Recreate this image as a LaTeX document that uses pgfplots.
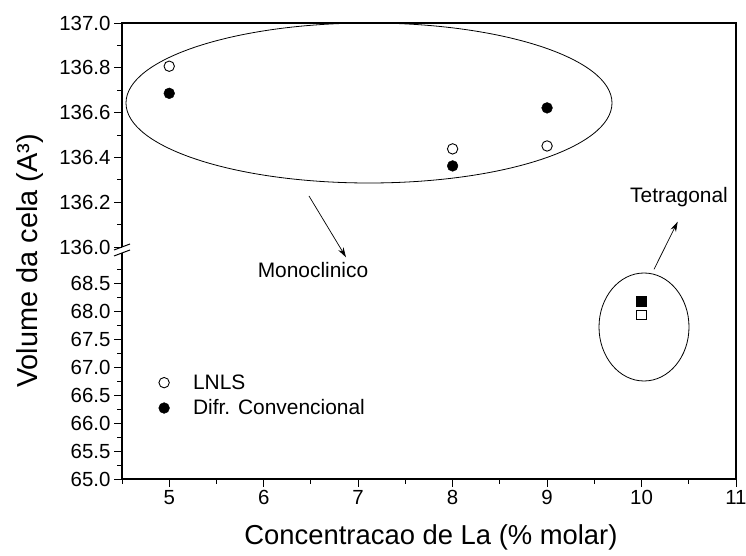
\documentclass[border=0pt]{standalone}
\usepackage{pgfplots}
\pgfplotsset{compat=1.18}
\usepackage{fontspec}
\setmainfont{Liberation Sans}
\usetikzlibrary{arrows.meta}

\newcommand{\ticksize}{\fontsize{20.5}{24}\selectfont}

\pgfplotsset{
  cellaxis/.style={
    scale only axis, width=614bp, xmin=4.5, xmax=11,
    anchor=south west,
    axis line style={draw=none},
    tick align=outside, major tick length=8bp, minor tick length=5bp,
    tick style={black, line width=0.9bp},
    ytick pos=left,
    yticklabel={\hbox{\ticksize\pgfmathprintnumber[fixed,fixed zerofill,precision=1,assume math mode=true]{\tick}}},
    xticklabel={\hbox{\ticksize\pgfmathprintnumber[assume math mode=true]{\tick}}},
    clip=false,
  },
  openmk/.style={only marks, mark=*, mark size=5.2bp,
    mark options={fill=white, draw=black, line width=0.9bp}},
  fullmk/.style={only marks, mark=*, mark size=5.4bp,
    mark options={fill=black, draw=black}},
  opensq/.style={only marks, mark=square*, mark size=4.8bp,
    mark options={fill=white, draw=black, line width=0.9bp}},
  fullsq/.style={only marks, mark=square*, mark size=5bp,
    mark options={fill=black, draw=black}},
}

\begin{document}
\begin{tikzpicture}
\useasboundingbox (0,0) rectangle (746bp,556bp);

% lower segment: tetragonal phase
\begin{axis}[cellaxis, at={(122bp,77bp)}, height=232bp,
  ymin=65, ymax=69.142857,
  ytick={65,65.5,66,66.5,67,67.5,68,68.5},
  minor ytick={65.25,65.75,66.25,66.75,67.25,67.75,68.25,68.75},
  xtick={5,6,7,8,9,10,11},
  minor xtick={4.5,5.5,6.5,7.5,8.5,9.5,10.5},
  xtick pos=bottom,
  legend image code/.code={%
    \path[draw=none, fill=none] (-7bp,-6bp) rectangle (27bp,6bp);
    \draw[#1] plot coordinates {(0bp,0bp)};},
  legend style={draw=none, fill=none, at={(0.052,0.36)}, anchor=west,
    font=\fontsize{21}{24}\selectfont, row sep=5bp},
  legend cell align=left,
]
  \addlegendimage{openmk}
  \addlegendentry{LNLS}
  \addlegendimage{fullmk}
  \addlegendentry{Difr. Convencional}
  \addplot[fullsq, forget plot] coordinates {(10,68.17)};
  \addplot[opensq, forget plot] coordinates {(10,67.93)};
\end{axis}

% upper segment: monoclinic phase
\begin{axis}[cellaxis, at={(122bp,309bp)}, height=224bp,
  ymin=136, ymax=137,
  ytick={136,136.2,136.4,136.6,136.8,137},
  minor ytick={136.1,136.3,136.5,136.7,136.9},
  xtick=\empty, minor xtick={},
]
  \addplot[openmk] coordinates {(5,136.807) (8,136.438) (9,136.451)};
  \addplot[fullmk] coordinates {(5,136.686) (8,136.362) (9,136.621)};
\end{axis}

% frame with broken left spine
\draw[line width=1.2bp] (122bp,303bp) -- (122bp,77bp) -- (736bp,77bp)
  -- (736bp,533bp) -- (122bp,533bp) -- (122bp,309bp);
\draw[line width=1bp] (114bp,306bp) -- (130bp,312bp);
\draw[line width=1bp] (114bp,300bp) -- (130bp,306bp);

% phase annotations
\draw[line width=0.8bp] (369bp,453bp) ellipse [x radius=243bp, y radius=80bp];
\draw[line width=0.8bp] (644bp,229bp) ellipse [x radius=45bp, y radius=54bp];
\draw[line width=0.7bp, -{Stealth[length=10bp,width=6bp]}] (309bp,360bp) -- (346bp,298.7bp);
\draw[line width=0.7bp, -{Stealth[length=10bp,width=6bp]}] (654bp,286.7bp) -- (677.7bp,334.3bp);
\node[font=\fontsize{21}{24}\selectfont] at (313bp,286bp) {Monoclinico};
\node[font=\fontsize{21}{24}\selectfont] at (679bp,359bp) {Tetragonal};

% axis titles
\node[font=\fontsize{27.5}{32}\selectfont] at (431bp,19bp) {Concentracao de La (\% molar)};
\node[font=\fontsize{29}{34}\selectfont, rotate=90] at (30bp,295bp) {Volume da cela (A³)};
\end{tikzpicture}
\end{document}
